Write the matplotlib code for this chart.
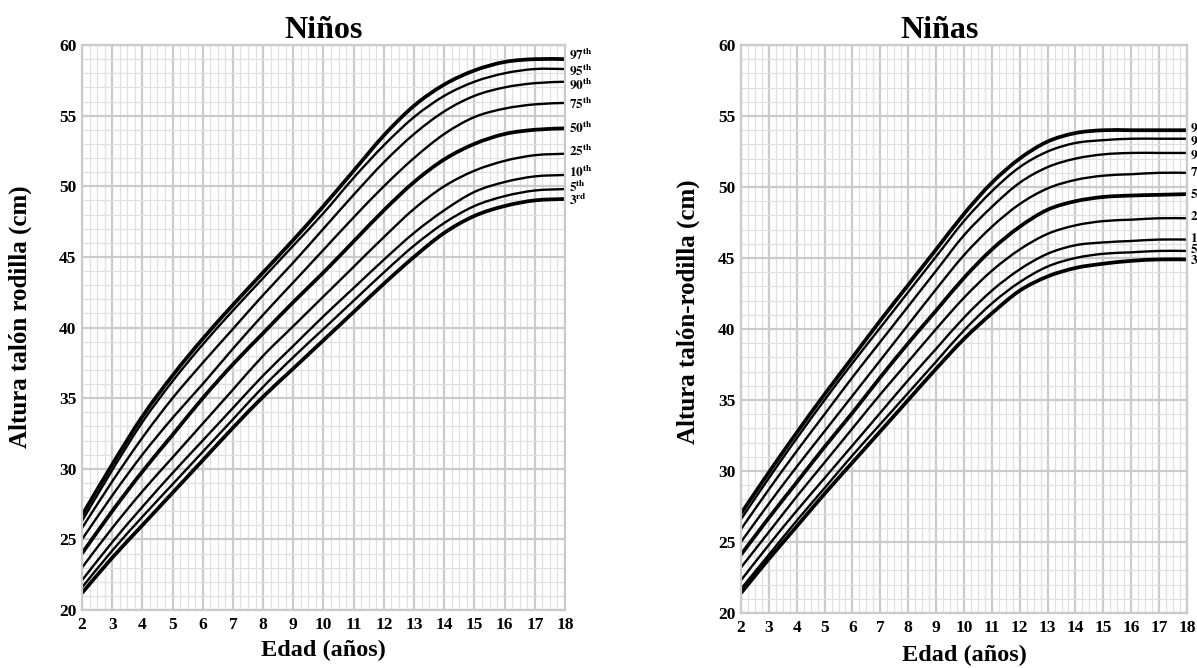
import matplotlib.pyplot as plt
from matplotlib.path import Path
from matplotlib.patches import PathPatch
from matplotlib.ticker import MultipleLocator

plt.rcParams['font.family'] = ['Liberation Serif', 'DejaVu Serif']
plt.rcParams['font.weight'] = 'bold'
plt.rcParams['mathtext.fontset'] = 'stix'

edad = list(range(2, 19))
percentiles = ["97", "95", "90", "75", "50", "25", "10", "5", "3"]
sufijos = ["th", "th", "th", "th", "th", "th", "th", "th", "rd"]

# altura talón-rodilla (cm) por edad, niños
ninos = {
    "97": [26.7, 30.3, 33.7, 36.6, 39.2, 41.6, 43.9, 46.2, 48.6, 51.1, 53.6, 55.7, 57.2, 58.2, 58.8, 59.0, 59.0],
    "95": [26.3, 29.9, 33.3, 36.2, 38.8, 41.2, 43.5, 45.8, 48.1, 50.6, 52.9, 54.9, 56.4, 57.4, 58.0, 58.3, 58.3],
    "90": [25.8, 29.1, 32.2, 35.0, 37.5, 39.9, 42.3, 44.6, 47.0, 49.4, 51.7, 53.7, 55.3, 56.4, 57.0, 57.3, 57.4],
    "75": [25.0, 28.1, 31.0, 33.6, 36.0, 38.5, 40.9, 43.2, 45.5, 47.8, 50.0, 52.0, 53.7, 54.9, 55.5, 55.8, 55.9],
    "50": [24.0, 27.0, 29.8, 32.4, 35.0, 37.4, 39.6, 41.8, 43.9, 46.1, 48.3, 50.3, 51.9, 53.0, 53.7, 54.0, 54.1],
    "25": [23.0, 25.8, 28.4, 30.8, 33.2, 35.6, 38.0, 40.1, 42.2, 44.3, 46.4, 48.4, 50.0, 51.1, 51.8, 52.2, 52.3],
    "10": [22.1, 24.8, 27.3, 29.7, 32.0, 34.3, 36.6, 38.7, 40.8, 42.8, 44.8, 46.7, 48.3, 49.6, 50.3, 50.7, 50.8],
    "5":  [21.6, 24.2, 26.6, 28.9, 31.2, 33.5, 35.8, 37.9, 39.9, 41.9, 43.9, 45.8, 47.4, 48.6, 49.3, 49.7, 49.8],
    "3":  [21.2, 23.7, 26.0, 28.3, 30.6, 32.9, 35.1, 37.1, 39.1, 41.1, 43.1, 45.0, 46.7, 47.9, 48.6, 49.0, 49.1],
}

# altura talón-rodilla (cm) por edad, niñas
ninas = {
    "97": [27.0, 29.9, 32.7, 35.4, 38.0, 40.6, 43.1, 45.6, 48.1, 50.3, 52.0, 53.2, 53.8, 54.0, 54.0, 54.0, 54.0],
    "95": [26.6, 29.5, 32.3, 35.0, 37.6, 40.1, 42.6, 45.1, 47.6, 49.7, 51.4, 52.5, 53.1, 53.3, 53.4, 53.4, 53.4],
    "90": [25.9, 28.7, 31.4, 34.0, 36.6, 39.1, 41.6, 44.1, 46.6, 48.6, 50.3, 51.4, 52.0, 52.3, 52.4, 52.4, 52.4],
    "75": [25.0, 27.7, 30.3, 32.8, 35.3, 37.8, 40.3, 42.8, 45.2, 47.2, 48.8, 49.9, 50.5, 50.8, 50.9, 51.0, 51.0],
    "50": [24.1, 26.7, 29.2, 31.7, 34.1, 36.6, 39.0, 41.3, 43.6, 45.6, 47.2, 48.4, 49.0, 49.3, 49.4, 49.45, 49.5],
    "25": [23.2, 25.7, 28.2, 30.6, 33.0, 35.4, 37.7, 40.0, 42.2, 44.1, 45.6, 46.7, 47.3, 47.6, 47.7, 47.8, 47.8],
    "10": [22.3, 24.8, 27.2, 29.5, 31.8, 34.1, 36.4, 38.6, 40.8, 42.7, 44.2, 45.3, 45.9, 46.1, 46.2, 46.3, 46.3],
    "5":  [21.7, 24.1, 26.5, 28.8, 31.1, 33.3, 35.5, 37.7, 39.9, 41.8, 43.3, 44.4, 45.0, 45.3, 45.4, 45.5, 45.5],
    "3":  [21.4, 23.8, 26.1, 28.4, 30.6, 32.8, 35.0, 37.2, 39.3, 41.1, 42.7, 43.7, 44.3, 44.6, 44.8, 44.9, 44.9],
}

# posición vertical de las etiquetas de percentil al final de cada curva
etiq_ninos = [59.3, 58.2, 57.2, 55.8, 54.1, 52.5, 51.0, 49.9, 49.0]
etiq_ninas = [54.2, 53.3, 52.3, 51.0, 49.5, 47.9, 46.4, 45.6, 44.8]

gruesas = {"97", "50", "3"}


def curva_suave(x, y):
    # trazo Catmull-Rom por los puntos (x, y) como curvas Bezier cúbicas
    verts = [(x[0], y[0])]
    codes = [Path.MOVETO]
    n = len(x)
    for i in range(n - 1):
        x0, y0 = (x[i - 1], y[i - 1]) if i > 0 else (x[i], y[i])
        x3, y3 = (x[i + 2], y[i + 2]) if i + 2 < n else (x[i + 1], y[i + 1])
        c1 = (x[i] + (x[i + 1] - x0) / 6, y[i] + (y[i + 1] - y0) / 6)
        c2 = (x[i + 1] - (x3 - x[i]) / 6, y[i + 1] - (y3 - y[i]) / 6)
        verts += [c1, c2, (x[i + 1], y[i + 1])]
        codes += [Path.CURVE4] * 3
    return Path(verts, codes)


def dibujar(ax, datos, etiquetas, titulo, ylabel, titulo_x, ylab_pos, xlab_y):
    ax.set_xlim(2, 18)
    ax.set_ylim(20, 60)
    ax.xaxis.set_major_locator(MultipleLocator(1))
    ax.xaxis.set_minor_locator(MultipleLocator(0.25))
    ax.yaxis.set_major_locator(MultipleLocator(5))
    ax.yaxis.set_minor_locator(MultipleLocator(1))
    ax.grid(which='major', color='#cbcbcb', linewidth=1.6)
    ax.grid(which='minor', color='#e0e0e0', linewidth=0.9)
    ax.set_axisbelow(True)
    for s in ax.spines.values():
        s.set_color('#cbcbcb')
        s.set_linewidth(1.6)
    ax.tick_params(which='both', length=0, labelsize=12.5)
    ax.tick_params(axis='y', pad=4)
    ax.tick_params(axis='x', pad=5)

    for p, suf, ye in zip(percentiles, sufijos, etiquetas):
        lw = 2.7 if p in gruesas else 1.7
        ax.add_patch(PathPatch(curva_suave(edad, datos[p]), fill=False,
                               edgecolor='black', linewidth=lw, capstyle='butt'))
        ax.text(18.12, ye, r"$\mathbf{%s}^{\mathbf{%s}}$" % (p, suf),
                fontsize=9.5, va='center', ha='left', clip_on=False)

    ax.set_title(titulo, fontsize=23, fontweight='bold', x=titulo_x, pad=3)
    ax.set_xlabel('Edad (años)', fontsize=17.5, fontweight='bold')
    ax.set_ylabel(ylabel, fontsize=18, fontweight='bold')
    ax.xaxis.set_label_coords(0.5, xlab_y)
    ax.yaxis.set_label_coords(*ylab_pos)


fig = plt.figure(figsize=(11.97, 6.68), dpi=100)
ax1 = fig.add_axes([0.0685, 0.0868, 0.4035, 0.8458])
ax2 = fig.add_axes([0.619, 0.0823, 0.3726, 0.8503])

dibujar(ax1, ninos, etiq_ninos, 'Niños', 'Altura talón rodilla (cm)',
        0.5, (-0.103, 0.52), -0.053)
dibujar(ax2, ninas, etiq_ninas, 'Niñas', 'Altura talón-rodilla (cm)',
        0.446, (-0.092, 0.53), -0.056)

fig.savefig('out.png', dpi=100)
plt.close(fig)
